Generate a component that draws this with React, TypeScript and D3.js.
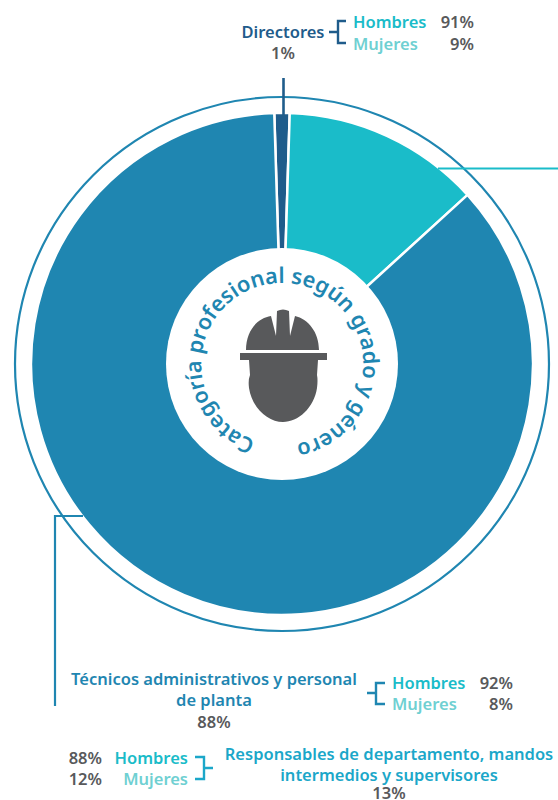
import React from "react";
import * as d3 from "d3";

// Share of staff per professional category, clockwise from the top
const categories = ["Directores", "Responsables de departamento, mandos intermedios y supervisores", "Técnicos administrativos y personal de planta"];
const shares = [1, 13, 88];
const sliceColors = ["#1f5c8b", "#1abcc9", "#1f86b1"];

const genderLabels = ["Hombres", "Mujeres"];
const directorGender = [91, 9];
const technicianGender = [92, 8];
const managerGender = [88, 12];

const centerTitle = "Categoría profesional según grado y género";

const GRAY = "#58595b";
const MEN = "#1abcc9";
const WOMEN = "#6fd0d2";
const FONT = "'Noto Sans', sans-serif";
const FS = 16.5;
const W = 558;
const H = 800;
const CX = 282;
const CY = 364;

type BracketProps = { stemX: number; spineX: number; tipX: number; stemY: number; y0: number; y1: number; color: string };
function Bracket({ stemX, spineX, tipX, stemY, y0, y1, color }: BracketProps) {
  const p = d3.path();
  p.moveTo(stemX, stemY);
  p.lineTo(spineX, stemY);
  p.moveTo(tipX, y0);
  p.lineTo(spineX, y0);
  p.lineTo(spineX, y1);
  p.lineTo(tipX, y1);
  return <path d={p.toString()} fill="none" stroke={color} strokeWidth={2.4} />;
}

type GenderProps = { x: number; numX: number; y0: number; y1: number; values: number[]; anchor: "start" | "end" };
function GenderRows({ x, numX, y0, y1, values, anchor }: GenderProps) {
  return (
    <g fontSize={FS} fontWeight={600}>
      <text x={x} y={y0} fill={MEN} textAnchor={anchor}>{genderLabels[0]}</text>
      <text x={x} y={y1} fill={WOMEN} textAnchor={anchor}>{genderLabels[1]}</text>
      <text x={numX} y={y0} fill={GRAY} textAnchor="end">{values[0]}%</text>
      <text x={numX} y={y1} fill={GRAY} textAnchor="end">{values[1]}%</text>
    </g>
  );
}

export default function App() {
  const halfFirst = (shares[0] / d3.sum(shares)) * Math.PI;
  const pie = d3.pie<number>().sort(null).startAngle(-halfFirst).endAngle(2 * Math.PI - halfFirst);
  const arc = d3.arc<d3.PieArcDatum<number>>().innerRadius(0).outerRadius(251);
  const slices = pie(shares);

  // Circular baseline for the title, opening at the bottom
  const titleRadius = 81;
  const titlePath = d3.path();
  const a0 = (4.5 - 180 - 90) * (Math.PI / 180);
  titlePath.arc(CX, CY, titleRadius, a0, a0 + 2 * Math.PI - 0.0001);

  const techLeader = d3.line()([[83, 516], [55, 516], [55, 706]]) as string;

  return (
    <svg width={W} height={H} viewBox={`0 0 ${W} ${H}`} fontFamily={FONT}
      style={{ position: "absolute", left: 0, top: 0, display: "block" }}>
      <circle cx={CX} cy={CY} r={267} fill="none" stroke="#1f86b1" strokeWidth={2.2} />

      {slices.map((s, i) => (
        <path key={categories[i]} d={arc(s) as string} transform={`translate(${CX},${CY})`}
          fill={sliceColors[i]} stroke="#fff" strokeWidth={2.5} />
      ))}

      <circle cx={CX} cy={CY} r={116} fill="#fff" />

      <path id="title-baseline" d={titlePath.toString()} fill="none" />
      <text fontSize={21.8} fontWeight={600} fill="#1f86b1" textAnchor="middle">
        <textPath href="#title-baseline" startOffset="50%">{centerTitle}</textPath>
      </text>

      {/* Hard-hat pictogram */}
      <g fill={GRAY}>
        <path d="M246 350 C246 330 258 318 271 316 L276 336 L277 311 Q283 308 289 311 L290 336 L295 316 C308 319 319 332 319 350 Z" />
        <rect x={240} y={353} width={87} height={7} />
        <path d="M249 360 L318 360 L317 375 Q318 380 317 388 C314 408 298 422 283 422 C268 422 252 408 249 388 Q248 380 250 375 Z" />
      </g>

      {/* Leader lines */}
      <line x1={283.5} x2={283.5} y1={78} y2={116} stroke={sliceColors[0]} strokeWidth={2.6} />
      <line x1={438} x2={558} y1={168.5} y2={168.5} stroke={sliceColors[1]} strokeWidth={2.2} />
      <path d={techLeader} fill="none" stroke={sliceColors[2]} strokeWidth={2.2} />

      {/* Directores */}
      <g fontSize={FS} fontWeight={600} textAnchor="middle">
        <text x={283} y={38} fill={sliceColors[0]}>Directores</text>
        <text x={283} y={59} fill={GRAY}>{shares[0]}%</text>
      </g>
      <Bracket stemX={329} spineX={338} tipX={346} stemY={32} y0={21} y1={43} color={sliceColors[0]} />
      <GenderRows x={353} numX={474} y0={28} y1={50} values={directorGender} anchor="start" />

      {/* Técnicos */}
      <g fontSize={FS} fontWeight={600} textAnchor="middle">
        <text x={214} y={685} fill={sliceColors[2]}>Técnicos administrativos y personal</text>
        <text x={214} y={706} fill={sliceColors[2]}>de planta</text>
        <text x={214} y={728} fill={GRAY}>{shares[2]}%</text>
      </g>
      <Bracket stemX={367} spineX={376} tipX={385} stemY={693} y0={683} y1={704} color={sliceColors[2]} />
      <GenderRows x={392} numX={513} y0={689} y1={710} values={technicianGender} anchor="start" />

      {/* Responsables */}
      <g fontSize={FS} fontWeight={600} textAnchor="middle">
        <text x={389} y={760} fill="#1ba7c9">Responsables de departamento, mandos</text>
        <text x={389} y={781} fill="#1ba7c9">intermedios y supervisores</text>
        <text x={389} y={799} fill={GRAY}>{shares[1]}%</text>
      </g>
      <Bracket stemX={213} spineX={204} tipX={195} stemY={768} y0={757} y1={779} color="#1ba7c9" />
      <GenderRows x={188} numX={102} y0={764} y1={785} values={managerGender} anchor="end" />
    </svg>
  );
}
